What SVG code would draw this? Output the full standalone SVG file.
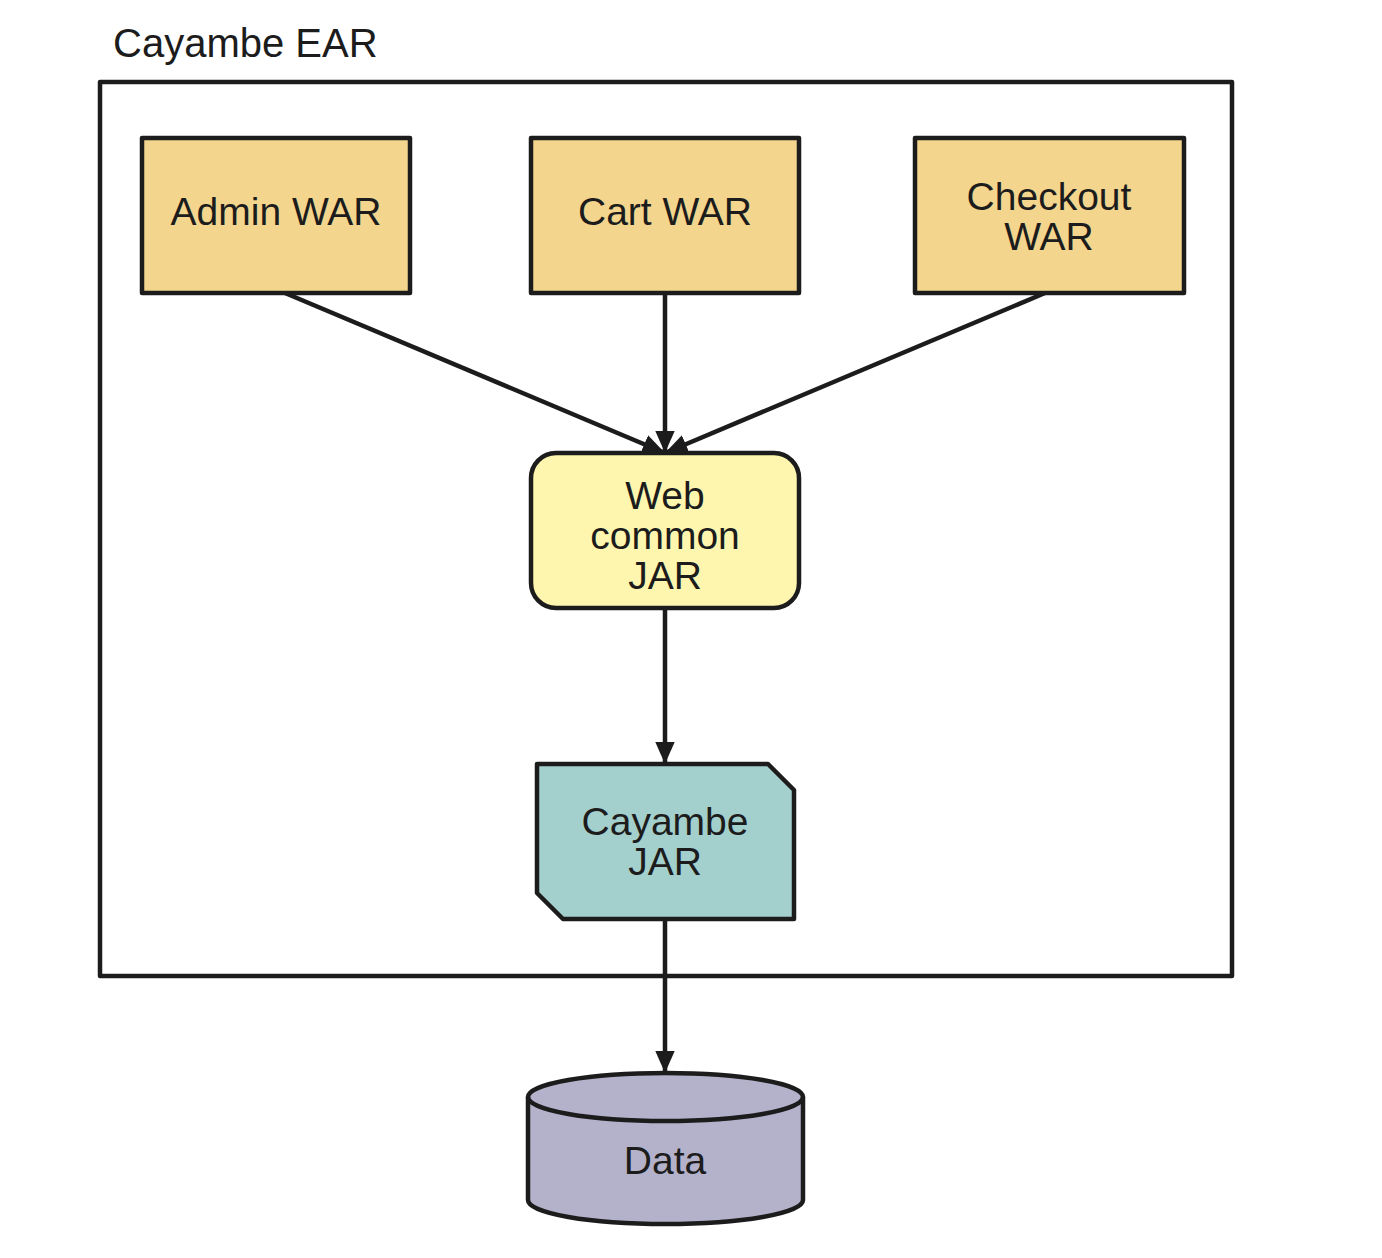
<svg xmlns="http://www.w3.org/2000/svg" width="1382" height="1258" viewBox="0 0 1382 1258">
<style>
.s{stroke:#1c1c1c;stroke-width:4.5;stroke-linejoin:round}
.war{fill:#F4D58D}
.t{font-family:"Liberation Sans",Arial,sans-serif;font-size:39px;fill:#1c1c1c;text-anchor:middle}
.c{fill:none;stroke:#1c1c1c;stroke-width:4.5}
</style>
<defs>
<marker id="ah" viewBox="0 0 10 10" refX="10" refY="5" markerWidth="5" markerHeight="4.4" orient="auto" markerUnits="strokeWidth" preserveAspectRatio="none">
<path d="M0,0 L10,5 L0,10 z" fill="#1c1c1c"/>
</marker>
</defs>
<rect width="1382" height="1258" fill="#fff"/>
<g id="ear">
<rect class="s" x="100" y="82" width="1132" height="894" fill="none"/>
<text class="t" x="113" y="57" style="text-anchor:start;font-size:40px">Cayambe EAR</text>
</g>
<g id="connectors">
<line class="c" x1="285" y1="293" x2="665" y2="453" marker-end="url(#ah)"/>
<line class="c" x1="665" y1="293" x2="665" y2="453" marker-end="url(#ah)"/>
<line class="c" x1="1045" y1="293" x2="665" y2="453" marker-end="url(#ah)"/>
<line class="c" x1="665" y1="608" x2="665" y2="764" marker-end="url(#ah)"/>
<line class="c" x1="665" y1="919" x2="665" y2="1073" marker-end="url(#ah)"/>
</g>
<g id="admin">
<rect class="s war" x="142" y="138" width="268" height="155"/>
<text class="t" x="276" y="225">Admin WAR</text>
</g>
<g id="cart">
<rect class="s war" x="531" y="138" width="268" height="155"/>
<text class="t" x="665" y="225">Cart WAR</text>
</g>
<g id="checkout">
<rect class="s war" x="915" y="138" width="269" height="155"/>
<text class="t" x="1049" y="210">Checkout</text>
<text class="t" x="1049" y="250">WAR</text>
</g>
<g id="webcommon">
<rect class="s" x="531" y="453" width="268" height="155" rx="25" fill="#FEF6AE"/>
<text class="t" x="665" y="509">Web</text>
<text class="t" x="665" y="549">common</text>
<text class="t" x="665" y="589">JAR</text>
</g>
<g id="cayambejar">
<path class="s" d="M537,764 L768,764 L794,790 L794,919 L563,919 L537,893 Z" fill="#A3CFCD"/>
<text class="t" x="665" y="835">Cayambe</text>
<text class="t" x="665" y="875">JAR</text>
</g>
<g id="data">
<path class="s" d="M528,1097 L528,1200 A137.5,24 0 0 0 803,1200 L803,1097 A137.5,24 0 0 0 528,1097 Z" fill="#B4B2CB"/>
<path class="s" d="M528,1097 A137.5,24 0 0 0 803,1097" fill="none"/>
<text class="t" x="665" y="1174">Data</text>
</g>
</svg>
